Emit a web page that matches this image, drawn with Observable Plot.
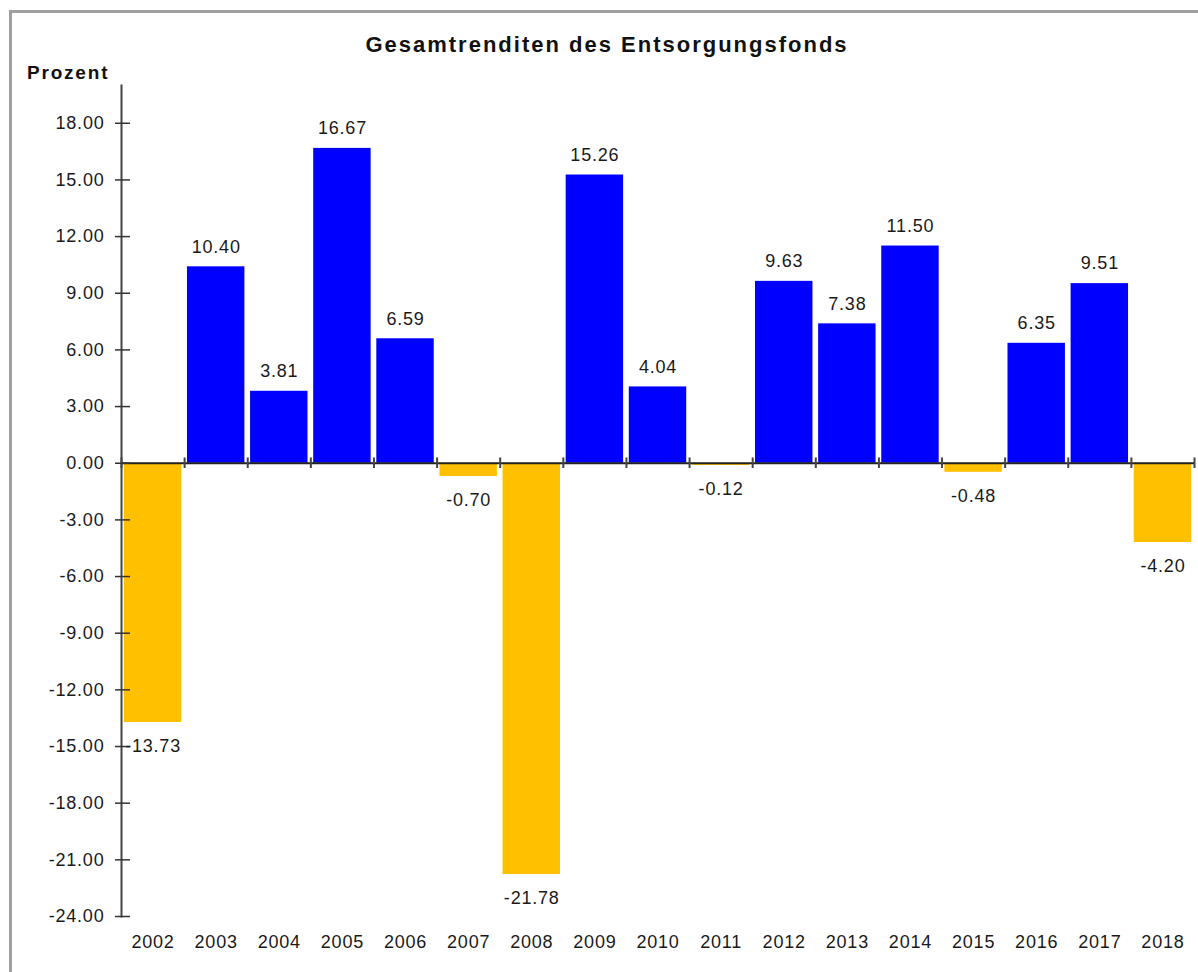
<!DOCTYPE html>
<html>
<head>
<meta charset="utf-8">
<script src="https://cdn.jsdelivr.net/npm/d3@7"></script>
<script src="https://cdn.jsdelivr.net/npm/@observablehq/plot@0.6"></script>
<style>
  body { margin: 0; background: #fff; font-family: Arial, "Liberation Sans", sans-serif; }
  #wrap { position: relative; width: 1198px; height: 972px; overflow: hidden; background: #fff; }
  #frame { position: absolute; left: 9px; top: 10px; width: 1400px; height: 1200px;
           border-left: 3px solid #a0a0a0; border-top: 3px solid #a0a0a0; }
  #chart { position: absolute; left: 0; top: 0; }
  #chart svg text { letter-spacing: 0.8px; }
  #title { position: absolute; left: 0; width: 1214px; top: 34px; text-align: center;
           font-weight: bold; font-size: 22px; line-height: 22px; letter-spacing: 2px; color: #111; }
  #ylab { position: absolute; left: 27px; top: 63px; font-weight: bold; font-size: 19px;
          line-height: 19px; letter-spacing: 1.8px; color: #111; }
</style>
</head>
<body>
<div id="wrap">
  <div id="frame"></div>
  <div id="chart"></div>
  <div id="title">Gesamtrenditen des Entsorgungsfonds</div>
  <div id="ylab">Prozent</div>
</div>
<script>
const years = ["2002","2003","2004","2005","2006","2007","2008","2009","2010",
               "2011","2012","2013","2014","2015","2016","2017","2018"];
const returns = [-13.73, 10.40, 3.81, 16.67, 6.59, -0.70, -21.78, 15.26, 4.04,
                 -0.12, 9.63, 7.38, 11.50, -0.48, 6.35, 9.51, -4.20];
const yTicks = [-24, -21, -18, -15, -12, -9, -6, -3, 0, 3, 6, 9, 12, 15, 18];

const data = years.map((year, i) => ({year, value: returns[i], sign: returns[i] < 0 ? "neg" : "pos"}));

const W = 1198, H = 972, mL = 121, mR = 4, mT = 85, mB = 56;
const plotW = W - mL - mR;
const step = plotW / years.length;
const textColor = "#1a1a1a";

const chart = Plot.plot({
  width: W, height: H,
  marginLeft: mL, marginRight: mR, marginTop: mT, marginBottom: mB,
  style: {fontFamily: "Arial, 'Liberation Sans', sans-serif", fontSize: "18px", color: textColor, background: "transparent"},
  x: {type: "band", domain: years, paddingInner: 0.09, paddingOuter: 0.045, round: false},
  y: {domain: [-24, 20]},
  color: {domain: ["pos", "neg"], range: ["#0000FF", "#FFC000"]},
  marks: [
    Plot.barY(data, {x: "year", y: "value", fill: "sign"}),
    Plot.frame({anchor: "left", stroke: "#444", strokeWidth: 2}),
    Plot.ruleY([0], {stroke: "#222", strokeWidth: 2}),
    Plot.ruleX(years, {x: d => d, y1: -0.28, y2: 0.28, dx: -step / 2, stroke: "#444", strokeWidth: 2}),
    Plot.ruleX(years.slice(-1), {x: d => d, y1: -0.28, y2: 0.28, dx: step / 2, stroke: "#444", strokeWidth: 2}),
    Plot.ruleY(yTicks, {y: d => d, insetRight: plotW - 9, stroke: "#333", strokeWidth: 1.5}),
    Plot.axisY({ticks: yTicks, tickFormat: d => d.toFixed(2), tickSize: 6, tickPadding: 11, label: null, stroke: "#333", strokeWidth: 1.5}),
    Plot.axisX({tickSize: 0, tickPadding: 19, label: null}),
    Plot.text(data.filter(d => d.value >= 0), {x: "year", y: "value", text: d => d.value.toFixed(2), dy: -20, fill: textColor}),
    Plot.text(data.filter(d => d.value < 0), {x: "year", y: "value", text: d => d.value.toFixed(2), dy: 24, fill: textColor})
  ]
});
document.getElementById("chart").appendChild(chart);
</script>
</body>
</html>
